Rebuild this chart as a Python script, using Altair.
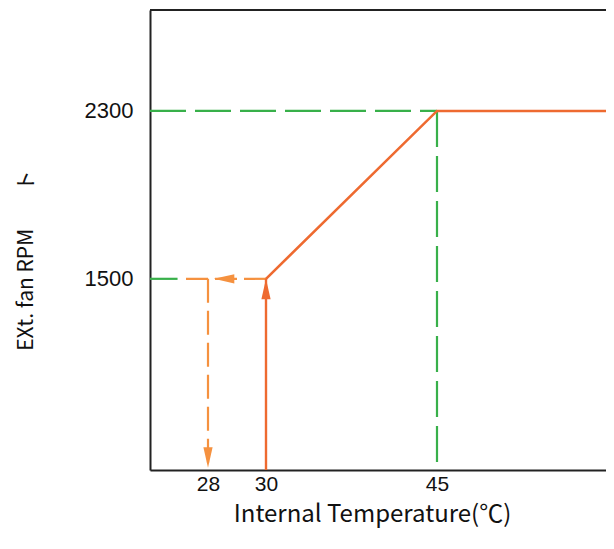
import altair as alt
import pandas as pd

# ---- data ----
x_ticks = [28, 30, 45]
y_ticks = [1500, 2300]
x_domain = [26, 28, 30, 45, 60]          # piecewise axis (not to scale in original)
y_domain = [589, 2781]

curve_x = [30, 45, 60]
curve_y = [1500, 2300, 2300]

rise = dict(x=[30], y=[589], x2=[30], y2=[1500])          # solid orange up
back = dict(x=[30], y=[1500], x2=[27.12], y2=[1500])      # dashed orange left
drop = dict(x=[28], y=[1500], x2=[28], y2=[589])          # dashed orange down
green_h = dict(x=[26], y=[2300], x2=[45], y2=[2300])
green_v = dict(x=[45], y=[2300], x2=[45], y2=[589])
green_s = dict(x=[26], y=[1500], x2=[26.95], y2=[1500])

arrow_up = dict(x=[30], y=[1500])
arrow_left = dict(x=[28.2], y=[1500])
arrow_down = dict(x=[28], y=[600])

# ---- styles ----
W, H = 456, 460
x_range_px = [0, 58, 116, 287, W]
MAIN = "#EE6A30"
ORANGE = "#F5913F"
GREEN = "#38B04A"
FRAME = "#222222"
TFONT = "Noto Sans CJK JP"
NB = "\u00a0"

xscale = alt.Scale(domain=x_domain, range=x_range_px, nice=False, zero=False)
yscale = alt.Scale(domain=y_domain, nice=False, zero=False)

xaxis = alt.Axis(values=x_ticks, format="d", grid=False, ticks=False,
                 labelFontSize=21, labelFont="Liberation Sans", labelColor="#111",
                 labelPadding=3, domainColor=FRAME, domainWidth=2,
                 title="Internal Temperature(℃)", titleFont=TFONT,
                 titleFontSize=24, titleFontWeight="normal", titleColor="#111",
                 titleX=222, titleY=51, titleAlign="center",
                 titleBaseline="alphabetic")
yaxis = alt.Axis(values=y_ticks, format="d", grid=False, ticks=False,
                 labelFontSize=22, labelFont="Liberation Sans", labelColor="#111",
                 labelPadding=17, domainColor=FRAME, domainWidth=2,
                 title="EXt." + NB + "fan" + NB + "RPM" + NB * 8 + "ト",
                 titleFont=TFONT,
                 titleFontSize=21, titleFontWeight="normal", titleColor="#111",
                 titleAngle=270, titleX=-124, titleY=250, titleAlign="center",
                 titleBaseline="middle")

X = alt.X("x:Q", scale=xscale, axis=xaxis)
Y = alt.Y("y:Q", scale=yscale, axis=yaxis)


def seg(d, color, dash=None, width=2.2):
    kw = dict(color=color, strokeWidth=width)
    if dash:
        kw["strokeDash"] = dash
    return alt.Chart(pd.DataFrame(d)).mark_rule(**kw).encode(
        x=X, y=Y, x2="x2:Q", y2="y2:Q")


def arrow(d, path, color):
    return alt.Chart(pd.DataFrame(d)).mark_point(
        shape=path, filled=True, size=420, color=color, opacity=1,
        strokeWidth=0).encode(x=X, y=Y)


curve = alt.Chart(pd.DataFrame({"x": curve_x, "y": curve_y,
                                "i": list(range(len(curve_x)))})).mark_line(
    color=MAIN, strokeWidth=2.6).encode(x=X, y=Y, order="i:Q")

frame_top = alt.Chart(pd.DataFrame({"x": [0]})).mark_rule(
    color=FRAME, strokeWidth=2).encode(
    x=alt.value(0), x2=alt.value(W), y=alt.value(0))

chart = alt.layer(
    seg(green_h, GREEN, [36, 9]),
    seg(green_v, GREEN, [36, 9]),
    seg(green_s, GREEN),
    seg(back, ORANGE, [22, 7]),
    seg(drop, ORANGE, [24, 8]),
    seg(rise, MAIN, width=2.4),
    curve,
    arrow(arrow_up, "M0,0L0.45,2L-0.45,2Z", MAIN),
    arrow(arrow_left, "M0,0L2,-0.45L2,0.45Z", ORANGE),
    arrow(arrow_down, "M0,0L0.45,-2L-0.45,-2Z", ORANGE),
    frame_top,
).properties(
    width=W, height=H,
    autosize=alt.AutoSizeParams(type="none"),
    padding={"left": 142, "top": 2, "right": 0, "bottom": 62},
).configure_view(stroke=None).configure(background="white")

chart.save("out.html", embed_options={"renderer": "svg", "actions": False})
